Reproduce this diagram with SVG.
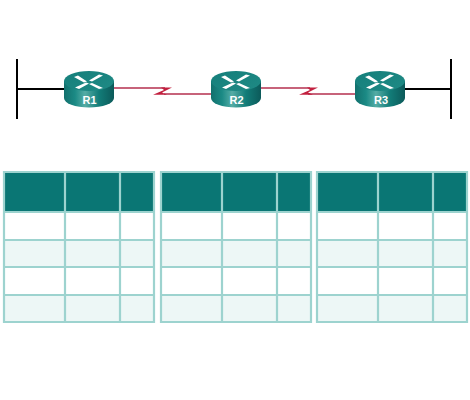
<svg xmlns="http://www.w3.org/2000/svg" width="470" height="400" viewBox="0 0 470 400">
<style>
.bar{stroke:#000;stroke-width:2;fill:none}
.wan{stroke:#b5304f;stroke-width:1.3;fill:none}
.bolt{fill:#c2203f}
.side{fill:url(#side)}
.top{fill:url(#top)}
.x{fill:#fff}
.lbl{font:bold 11px "Liberation Sans",Arial,sans-serif;fill:#fff;text-anchor:middle}
.head{fill:#0a7674}
.alt{fill:#edf7f6}
.plain{fill:#fff}
.grid{stroke:#9dd3cf;stroke-width:2.200;fill:none}
</style>
<defs>
<linearGradient id="side" x1="0" x2="1" y1="0" y2="0">
<stop offset="0" stop-color="#12706d"/>
<stop offset=".22" stop-color="#1b8a85"/>
<stop offset=".42" stop-color="#55aca5"/>
<stop offset=".7" stop-color="#127c78"/>
<stop offset="1" stop-color="#0c5a5a"/>
</linearGradient>
<linearGradient id="top" x1="0" x2="1" y1="0" y2="1">
<stop offset="0" stop-color="#157f7b"/>
<stop offset="1" stop-color="#1f8a85"/>
</linearGradient>
<g id="router">
<path class="side" d="M-25 0V17A25 9.500 0 0 0 25 17V0Z"/>
<ellipse class="top" rx="25" ry="10"/>
<path class="x" d="M-15 -4L-11 -5.500L-2 0.500L-5 1.500ZM14 -5.500L10 -6.500L0 -0.500L3 0.500ZM-14 6.500L-10 8L0 2.500L-3 1.500ZM14 7L10 8L0 3L3 2Z"/>
</g>
</defs>
<g id="connectors">
<path class="bar" d="M17 59V119M17 89H64"/>
<path class="wan" d="M114 88H165M164 94H211"/>
<path class="bolt" d="M153 94.800L164 90L161 87.500H172L162 92.500L167 94.800Z"/>
<path class="wan" d="M260 88H310M308 94H355"/>
<path class="bolt" d="M299 94.800L310 90L307 87.500H318L308 92.500L313 94.800Z"/>
<path class="bar" d="M404 89H451M451 59V119"/>
</g>
<g id="R1"><use href="#router" x="89" y="81"/><text class="lbl" x="89.500" y="104">R1</text></g>
<g id="R2"><use href="#router" x="236" y="81"/><text class="lbl" x="236.500" y="104">R2</text></g>
<g id="R3"><use href="#router" x="380" y="81"/><text class="lbl" x="381" y="104">R3</text></g>
<g id="table1">
<rect class="head" x="4" y="172" width="150" height="40"/>
<rect class="plain" x="4" y="212" width="150" height="28"/><rect class="alt" x="4" y="240" width="150" height="27"/>
<rect class="plain" x="4" y="267" width="150" height="28"/><rect class="alt" x="4" y="295" width="150" height="27"/>
<path class="grid" d="M4 172H154V322H4ZM65 172V322M120 172V322M4 212H154M4 240H154M4 267H154M4 295H154"/>
</g>
<g id="table2">
<rect class="head" x="161" y="172" width="150" height="40"/>
<rect class="plain" x="161" y="212" width="150" height="28"/><rect class="alt" x="161" y="240" width="150" height="27"/>
<rect class="plain" x="161" y="267" width="150" height="28"/><rect class="alt" x="161" y="295" width="150" height="27"/>
<path class="grid" d="M161 172H311V322H161ZM222 172V322M277 172V322M161 212H311M161 240H311M161 267H311M161 295H311"/>
</g>
<g id="table3">
<rect class="head" x="317" y="172" width="150" height="40"/>
<rect class="plain" x="317" y="212" width="150" height="28"/><rect class="alt" x="317" y="240" width="150" height="27"/>
<rect class="plain" x="317" y="267" width="150" height="28"/><rect class="alt" x="317" y="295" width="150" height="27"/>
<path class="grid" d="M317 172H467V322H317ZM378 172V322M433 172V322M317 212H467M317 240H467M317 267H467M317 295H467"/>
</g>
</svg>
